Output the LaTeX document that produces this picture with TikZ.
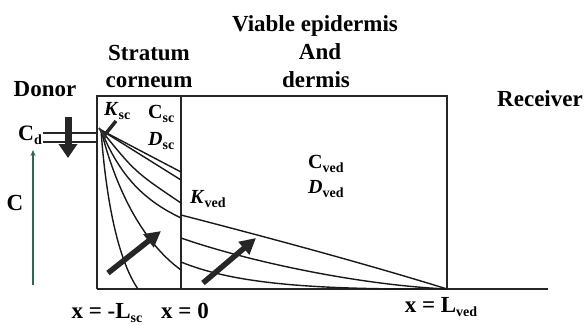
\documentclass[tikz,border=0pt]{standalone}
\usepackage{fontspec}
\setmainfont{Liberation Serif}
\usetikzlibrary{arrows.meta}
\newcommand{\lsub}[1]{\raisebox{-0.45ex}{\fontsize{14}{14}\selectfont\bfseries #1}}
\begin{document}
\begin{tikzpicture}[x=1pt,y=-1pt,
  head/.style={font=\fontsize{23}{25}\selectfont\bfseries, inner sep=0pt, anchor=base},
  sym/.style={font=\fontsize{20}{22}\selectfont\bfseries, inner sep=0pt, anchor=base west},
  frame/.style={draw=black!85, line width=1.8pt},
  prof/.style={draw=black!90, line width=1.4pt},
  bigarrow/.style={draw=black!85, line width=5.5pt, -{Triangle[length=16pt,width=16pt]}},
]
\useasboundingbox (0,0) rectangle (585,325);
% frame
\coordinate (TL) at (97,96);
\coordinate (TM) at (181,96);
\coordinate (TR) at (447,96);
\coordinate (BL) at (97,289);
\coordinate (BM) at (181,289);
\coordinate (BR) at (447,289);
\coordinate (AE) at (548,289);
\draw[frame] (BL) -- (TL) -- (TR) -- (BR);
\draw[frame] (TM) -- (BM);
\draw[frame] (BL) -- (AE);
% stratum corneum profiles
\coordinate (O) at (101,130);
\draw[prof] (O) -- (181,172);
\draw[prof] (O) -- (181,180);
\draw[prof] (O) .. controls (135,172) .. (181,203);
\draw[prof] (O) .. controls (122,182) and (150,203) .. (181,218);
\draw[prof] (O) .. controls (115,185) and (140,240) .. (181,270);
\draw[prof] (O) .. controls (106,200) and (118,260) .. (138,289);
% viable epidermis profiles
\draw[prof] (181,215) .. controls (270,238) and (370,265) .. (BR);
\draw[prof] (181,238) .. controls (250,262) and (360,285) .. (BR);
\draw[prof] (181,262) .. controls (230,282) and (300,289) .. (420,289);
% partition mark
\draw[line width=3.5pt, black!85] (103,137) -- (116,121);
\draw[line width=2pt, black!80] (99,128) -- (106,138);
% donor concentration lines
\draw[line width=2.4pt, black!85] (43,133) -- (TL |- 0,133);
\draw[line width=2.4pt, black!85] (43,142) -- (TL |- 0,142);
% downward arrow
\draw[draw=black!85, line width=7pt, -{Triangle[length=14pt,width=18pt]}] (68,117) -- (68,158);
% C axis
\draw[draw={rgb,255:red,45;green,105;blue,80}, line width=1.6pt, -{Stealth[length=6pt,width=5pt]}] (33,285) -- (33,150);
% flux arrows
\draw[bigarrow] (108,273) -- (161,231);
\draw[bigarrow] (203,283) -- (256,238);
% labels
\node[head] (viable) at (315,31) {Viable epidermis};
\node[head] (and) at (320,59) {And};
\node[head] (dermis) at (316,87) {dermis};
\node[head] (stratum) at (149,60) {Stratum};
\node[head] (corneum) at (149,87) {corneum};
\node[head] (donor) at (45,96) {Donor};
\node[head] (receiver) at (540,106) {Receiver};
\node[head] (clab) at (15,210) {C};
\node[sym, font=\fontsize{22}{24}\selectfont\bfseries] (cd) at (18,140) {C\lsub{d}};
\node[sym] (ksc) at (104,115) {\textit{K}\lsub{sc}};
\node[sym] (csc) at (148,118) {C\lsub{sc}};
\node[sym] (dsc) at (148,145) {\textit{D}\lsub{sc}};
\node[sym] (kved) at (190,203) {\textit{K}\lsub{ved}};
\node[sym] (cved) at (308,168) {C\lsub{ved}};
\node[sym] (dved) at (308,193) {\textit{D}\lsub{ved}};
\node[head] (xl) at (107,318) {x = -L\lsub{sc}};
\node[head] (x0) at (185,318) {x = 0};
\node[head] (xr) at (441,312) {x = L\lsub{ved}};
\end{tikzpicture}
\end{document}
